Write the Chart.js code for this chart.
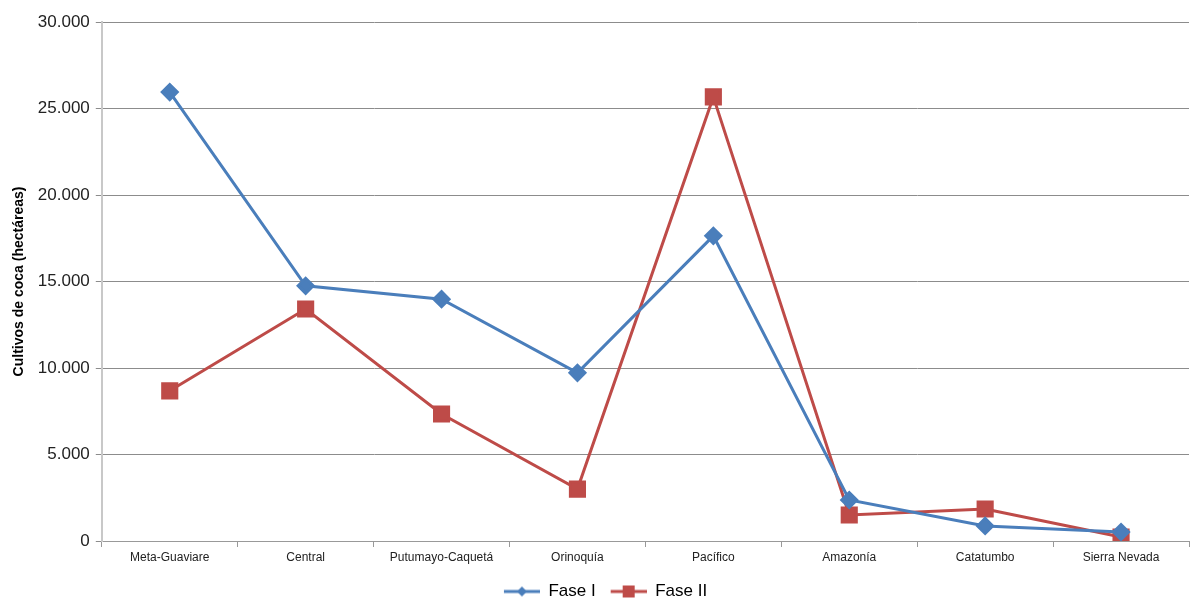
<!DOCTYPE html>
<html lang="es">
<head>
<meta charset="UTF-8">
<title>Cultivos de coca por región</title>
<script src="https://cdn.jsdelivr.net/npm/chart.js"></script>
<style>
    html, body { margin: 0; background: #fff; overflow: hidden; }
    .wrap { width: 1190px; height: 598px; position: relative; }
    canvas { display: block; }
</style>
</head>
<body>
<div class="wrap"><canvas id="grafico"></canvas></div>
<script>
// regiones y valores (hectáreas)
const regiones = ["Meta-Guaviare", "Central", "Putumayo-Caquetá", "Orinoquía", "Pacífico", "Amazonía", "Catatumbo", "Sierra Nevada"];
const faseI  = [25950, 14750, 13980, 9720, 17640, 2370, 870, 520];
const faseII = [8680, 13410, 7340, 3000, 25670, 1500, 1850, 230];
const ticksY = [0, 5000, 10000, 15000, 20000, 25000, 30000];

const azul = "#4A7EBB";
const rojo = "#BE4B48";

// icono de leyenda: línea con marcador en medio (con un margen a la izquierda)
function iconoLeyenda(color, tipo) {
    const c = document.createElement("canvas");
    c.width = 51; c.height = 16;
    const g = c.getContext("2d");
    g.strokeStyle = color;
    g.lineWidth = 3;
    g.beginPath(); g.moveTo(15, 8); g.lineTo(51, 8); g.stroke();
    g.fillStyle = color;
    if (tipo === "rombo") {
        g.beginPath(); g.moveTo(33, 3); g.lineTo(38, 8); g.lineTo(33, 13); g.lineTo(28, 8); g.closePath(); g.fill();
    } else {
        g.fillRect(27, 2, 12, 12);
    }
    return c;
}

// el área del gráfico llega casi al borde derecho y la leyenda baja un poco
const ajustes = {
    id: "ajustes",
    afterLayout(chart) {
        const a = chart.chartArea;
        const x = chart.scales.x;
        a.right = chart.width - 1;
        a.width = a.right - a.left;
        x.right = a.right;
        x.width = a.width;
        x.configure();
        const lg = chart.legend;
        lg.top += 12;
        lg.bottom += 12;
    }
};

new Chart(document.getElementById("grafico"), {
    type: "line",
    data: {
        labels: regiones,
        datasets: [
            {
                label: "Fase I",
                data: faseI,
                borderColor: azul,
                backgroundColor: azul,
                borderWidth: 3,
                pointStyle: "rectRot",
                pointRadius: 7.5,
                pointHoverRadius: 7.5,
                tension: 0
            },
            {
                label: "Fase II",
                data: faseII,
                borderColor: rojo,
                backgroundColor: rojo,
                borderWidth: 3,
                pointStyle: "rect",
                pointRadius: 10,
                pointHoverRadius: 10,
                tension: 0
            }
        ]
    },
    plugins: [ajustes],
    options: {
        responsive: true,
        maintainAspectRatio: false,
        animation: false,
        layout: { padding: { top: 22, right: 1, left: 7, bottom: 0 } },
        scales: {
            x: {
                offset: true,
                afterFit: (s) => { s.paddingLeft = 0; s.paddingRight = 0; s.height = 30; },
                grid: { offset: true, drawOnChartArea: false, tickLength: 6, color: "#999" },
                border: { color: "#999" },
                ticks: { color: "#222", font: { family: "Liberation Sans, Arial", size: 12 }, maxRotation: 0, padding: 3 }
            },
            y: {
                min: 0,
                max: 30000,
                afterBuildTicks: (ax) => { ax.ticks = ticksY.map(v => ({ value: v })); },
                grid: { color: "#8c8c8c", tickLength: 6 },
                border: { color: "#c8c8c8", width: 2 },
                ticks: {
                    color: "#222",
                    font: { family: "Liberation Sans, Arial", size: 17 },
                    padding: 6,
                    callback: (v) => v.toLocaleString("de-DE")
                },
                title: {
                    display: true,
                    text: "Cultivos de coca (hectáreas)",
                    color: "#000",
                    font: { family: "Liberation Sans, Arial", size: 14, weight: "bold" },
                    padding: { bottom: 4 }
                }
            }
        },
        plugins: {
            legend: {
                position: "bottom",
                labels: {
                    usePointStyle: true,
                    pointStyleWidth: 51,
                    boxHeight: 16,
                    color: "#222",
                    padding: 0,
                    font: { family: "Liberation Sans, Arial", size: 17 },
                    generateLabels: (chart) => chart.data.datasets.map((ds, i) => ({
                        text: ds.label,
                        fillStyle: ds.backgroundColor,
                        strokeStyle: ds.borderColor,
                        lineWidth: 0,
                        pointStyle: iconoLeyenda(ds.borderColor, i === 0 ? "rombo" : "cuadro"),
                        datasetIndex: i
                    }))
                }
            },
            tooltip: { enabled: false }
        }
    }
});
</script>
</body>
</html>
